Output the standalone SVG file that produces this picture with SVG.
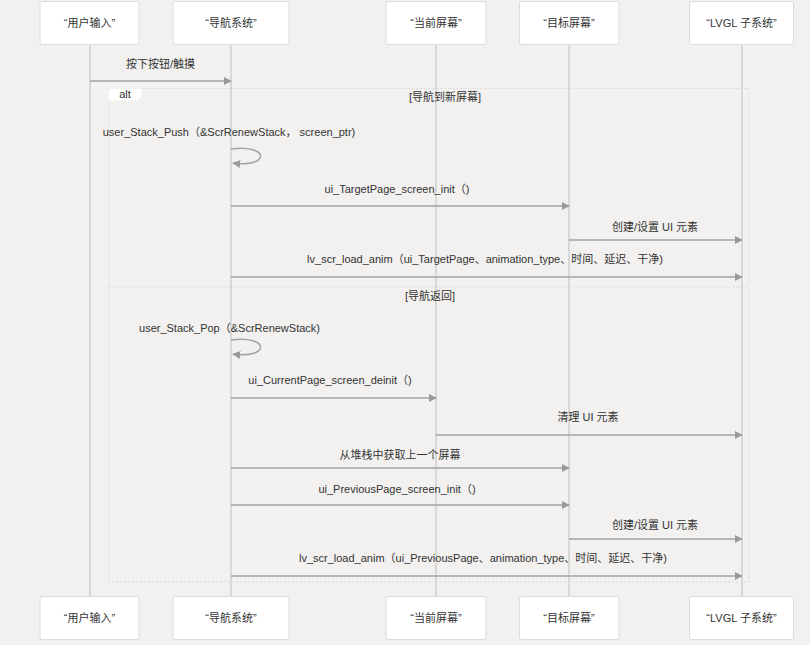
<svg xmlns="http://www.w3.org/2000/svg" width="810" height="645" viewBox="0 0 810 645">
<defs>
<style>
text{font-family:"Liberation Sans","Noto Sans CJK SC",sans-serif;font-size:11px;fill:#333;}
.actor rect{fill:#fff;stroke:#dcdcdc;stroke-width:1;}
.actor text{text-anchor:middle;}
.life{stroke:#cfcfcf;stroke-width:1.5;}
.msg{stroke:#a3a3a3;stroke-width:1.5;fill:none;}
.lbl{text-anchor:middle;}
.frame{fill:none;stroke:#d8d8d8;stroke-width:1;stroke-dasharray:2,2;}
</style>
<marker id="ah" viewBox="0 0 10 10" refX="9" refY="5" markerWidth="8" markerHeight="8" markerUnits="userSpaceOnUse" orient="auto">
<path d="M0,0 L10,5 L0,10 z" fill="#9a9a9a"/>
</marker>
</defs>
<rect width="810" height="645" fill="#f2f1ef"/>
<g id="lifelines">
<line class="life" x1="90" y1="44" x2="90" y2="597"/>
<line class="life" x1="231" y1="44" x2="231" y2="597"/>
<line class="life" x1="436" y1="44" x2="436" y2="597"/>
<line class="life" x1="569" y1="44" x2="569" y2="597"/>
<line class="life" x1="742" y1="44" x2="742" y2="597"/>
</g>
<g id="actor-user" class="actor">
<rect x="40" y="1.5" width="99" height="43" rx="2"/><text x="89.5" y="26.5">“用户输入”</text>
<rect x="40" y="596.5" width="99" height="43" rx="2"/><text x="89.5" y="621.5">“用户输入”</text>
</g>
<g id="actor-nav" class="actor">
<rect x="173" y="1.5" width="116" height="43" rx="2"/><text x="231" y="26.5">“导航系统”</text>
<rect x="173" y="596.5" width="116" height="43" rx="2"/><text x="231" y="621.5">“导航系统”</text>
</g>
<g id="actor-current" class="actor">
<rect x="386" y="1.5" width="100" height="43" rx="2"/><text x="436" y="26.5">“当前屏幕”</text>
<rect x="386" y="596.5" width="100" height="43" rx="2"/><text x="436" y="621.5">“当前屏幕”</text>
</g>
<g id="actor-target" class="actor">
<rect x="519.5" y="1.5" width="99.5" height="43" rx="2"/><text x="569" y="26.5">“目标屏幕”</text>
<rect x="519.5" y="596.5" width="99.5" height="43" rx="2"/><text x="569" y="621.5">“目标屏幕”</text>
</g>
<g id="actor-lvgl" class="actor">
<rect x="689.5" y="1.5" width="104" height="43" rx="2"/><text x="741.5" y="26.5">“LVGL 子系统”</text>
<rect x="689.5" y="596.5" width="104" height="43" rx="2"/><text x="741.5" y="621.5">“LVGL 子系统”</text>
</g>
<g id="alt-frame">
<rect class="frame" x="108.5" y="88.5" width="640" height="493.5"/>
<line class="frame" x1="108.5" y1="287" x2="748.5" y2="287"/>
<polygon points="108.5,88.5 142,88.5 142,96 138,100.5 108.5,100.5" fill="#fff"/>
<text x="125" y="98" class="lbl">alt</text>
<text x="445" y="101" class="lbl">[导航到新屏幕]</text>
<text x="430" y="300" class="lbl">[导航返回]</text>
</g>
<g id="connectors">
<line class="msg" x1="90" y1="81" x2="231" y2="81" marker-end="url(#ah)"/>
<text class="lbl" x="160.5" y="68">按下按钮/触摸</text>
<path class="msg" d="M231,149 C270,144 270,168 233,163" marker-end="url(#ah)"/>
<text class="lbl" x="229" y="136">user_Stack_Push（&amp;ScrRenewStack，  screen_ptr)</text>
<line class="msg" x1="231" y1="206" x2="569" y2="206" marker-end="url(#ah)"/>
<text class="lbl" x="397" y="193">ui_TargetPage_screen_init（)</text>
<line class="msg" x1="569" y1="240" x2="742" y2="240" marker-end="url(#ah)"/>
<text class="lbl" x="655" y="231">创建/设置 UI 元素</text>
<line class="msg" x1="231" y1="277" x2="742" y2="277" marker-end="url(#ah)"/>
<text class="lbl" x="485" y="263">lv_scr_load_anim（ui_TargetPage、animation_type、时间、延迟、干净)</text>
<path class="msg" d="M231,340 C270,335 270,359 233,354" marker-end="url(#ah)"/>
<text class="lbl" x="229.5" y="332">user_Stack_Pop（&amp;ScrRenewStack)</text>
<line class="msg" x1="231" y1="398" x2="436" y2="398" marker-end="url(#ah)"/>
<text class="lbl" x="330" y="384">ui_CurrentPage_screen_deinit（)</text>
<line class="msg" x1="436" y1="435" x2="742" y2="435" marker-end="url(#ah)"/>
<text class="lbl" x="588" y="421">清理 UI 元素</text>
<line class="msg" x1="231" y1="468" x2="569" y2="468" marker-end="url(#ah)"/>
<text class="lbl" x="400" y="459">从堆栈中获取上一个屏幕</text>
<line class="msg" x1="231" y1="505" x2="569" y2="505" marker-end="url(#ah)"/>
<text class="lbl" x="397" y="493">ui_PreviousPage_screen_init（)</text>
<line class="msg" x1="569" y1="539" x2="742" y2="539" marker-end="url(#ah)"/>
<text class="lbl" x="655" y="529">创建/设置 UI 元素</text>
<line class="msg" x1="231" y1="576" x2="742" y2="576" marker-end="url(#ah)"/>
<text class="lbl" x="483" y="562">lv_scr_load_anim（ui_PreviousPage、animation_type、时间、延迟、干净)</text>
</g>
</svg>
